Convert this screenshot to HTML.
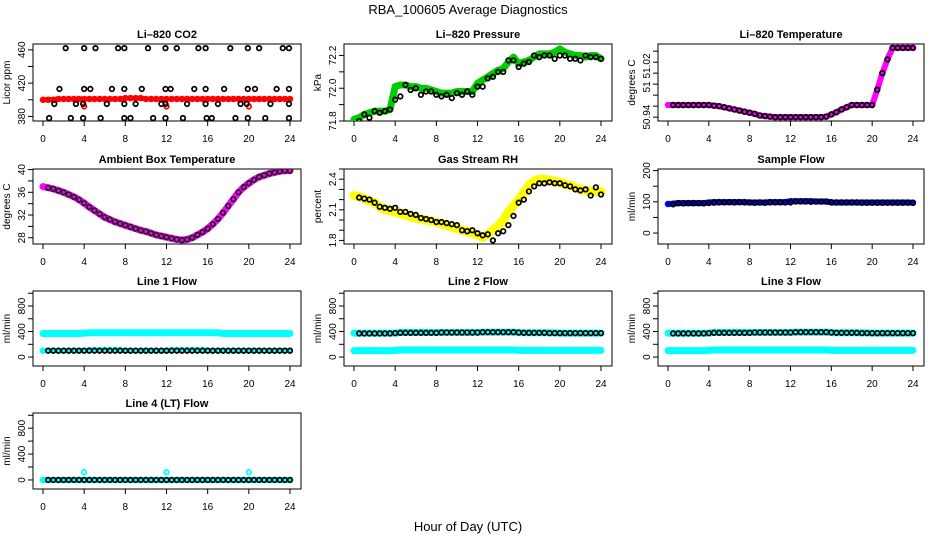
<!DOCTYPE html>
<html><head><meta charset="utf-8"><style>
html,body{margin:0;padding:0;background:#fff;}
svg{display:block;font-family:"Liberation Sans",Arial,sans-serif;}
</style></head><body>
<svg id="chart" width="936" height="540" viewBox="0 0 936 540" xmlns="http://www.w3.org/2000/svg">
<rect width="936" height="540" fill="#fff"/>
<text x="468" y="14" text-anchor="middle" font-size="13">RBA_100605  Average Diagnostics</text>
<text x="468" y="531" text-anchor="middle" font-size="13">Hour of Day (UTC)</text>
</svg>
<script>
const hrs=[0,0.5,1,1.5,2,2.5,3,3.5,4,4.5,5,5.5,6,6.5,7,7.5,8,8.5,9,9.5,10,10.5,11,11.5,12,12.5,13,13.5,14,14.5,15,15.5,16,16.5,17,17.5,18,18.5,19,19.5,20,20.5,21,21.5,22,22.5,23,23.5,24];
const xTicks=[0,4,8,12,16,20,24];
// CO2
const co2Red=[400,400,400,401,401,401,401,401,401,401,401,401,401,401,401,401,402,402,402,402,401,401,401,401,401,401,401,401,401,401,401,401,401,401,401,401,401,401,401,401,401,401,401,401,401,401,401,401,401];
const co2RedOutT=[4,12,20];
const co2RedOutV=[392,392,392];
const co2BlackT=[2.2,4,5.1,7.3,7.9,10.2,11.9,13,15.1,15.8,18.2,19.9,21,23.3,23.9,1.6,4,4.6,6.7,7.9,9.6,11.9,12.4,14.7,15.8,17.6,19.9,20.6,22.7,23.9,1.1,3.2,3.9,6.2,7.9,9,11.5,11.9,14,15.8,17,19.2,19.8,22.1,23.9,0.6,2.7,3.9,5.6,7.9,8.5,10.7,11.9,13.6,15.9,16.4,18.7,19.9,21.6,23.9];
const co2BlackV=[462,462,462,462,462,462,462,462,462,462,462,462,462,462,462,413,413,413,413,413,413,413,413,413,413,413,413,413,413,413,395,395,395,395,395,395,395,395,395,395,395,395,395,395,395,378,378,378,378,378,378,378,378,378,378,378,378,378,378,378];
// Pressure
const presGreen=[71.81,71.82,71.84,71.85,71.86,71.86,71.86,71.87,72.01,72.02,72.02,72.01,72.01,72.0,72.0,71.99,71.98,71.97,71.97,71.97,71.98,71.98,71.98,71.98,72.03,72.05,72.07,72.09,72.11,72.12,72.16,72.19,72.15,72.16,72.17,72.19,72.21,72.21,72.21,72.22,72.24,72.22,72.21,72.2,72.2,72.19,72.2,72.2,72.18];
const presBlack=[71.8,71.84,71.82,71.86,71.85,71.86,71.87,71.93,71.95,72.02,71.99,72.0,71.96,71.98,71.98,71.96,71.95,71.96,71.94,71.97,71.96,71.98,71.96,72.01,72.01,72.06,72.07,72.1,72.1,72.17,72.17,72.13,72.15,72.16,72.2,72.19,72.2,72.2,72.18,72.2,72.2,72.18,72.18,72.17,72.2,72.19,72.19,72.18];
// Li-820 temperature
const ltMag=[50.962,50.962,50.962,50.962,50.962,50.962,50.962,50.962,50.962,50.961,50.96,50.958,50.956,50.954,50.952,50.95,50.948,50.946,50.943,50.942,50.941,50.94,50.94,50.94,50.94,50.94,50.94,50.94,50.94,50.94,50.94,50.941,50.945,50.949,50.954,50.958,50.962,50.962,50.962,50.962,50.962,50.99,51.02,51.045,51.066,51.066,51.066,51.066,51.066];
// Ambient
const ambMag=[37,36.8,36.6,36.3,36,35.6,35.2,34.7,34.1,33.4,32.8,32.2,31.6,31.2,30.8,30.5,30.2,29.9,29.6,29.3,29.1,28.8,28.5,28.3,28.1,27.9,27.7,27.6,27.7,28,28.5,29,29.6,30.4,31.3,32.4,33.6,34.8,36,36.9,37.6,38.2,38.7,39,39.3,39.5,39.7,39.8,39.8];
// RH
const rhYel=[2.24,2.23,2.21,2.19,2.17,2.13,2.1,2.09,2.08,2.06,2.05,2.03,2.02,2.01,2.0,1.99,1.98,1.96,1.95,1.93,1.92,1.9,1.89,1.87,1.86,1.83,1.86,1.9,1.94,2.0,2.08,2.14,2.2,2.27,2.34,2.38,2.4,2.4,2.39,2.38,2.37,2.35,2.34,2.32,2.3,2.29,2.28,2.28,2.28];
const rhBlack=[2.22,2.21,2.2,2.17,2.13,2.12,2.11,2.12,2.08,2.08,2.06,2.05,2.02,2.01,2.0,1.98,1.98,1.97,1.96,1.95,1.9,1.89,1.9,1.87,1.85,1.86,1.8,1.87,1.89,1.95,2.04,2.17,2.2,2.28,2.33,2.36,2.36,2.37,2.36,2.36,2.34,2.33,2.3,2.29,2.3,2.24,2.32,2.25];
// Sample flow
const sfBlue=[93,94,96,96,96,96,96,96,98,99,99,99,99,99,99,99,98,98,98,98,99,99,99,99,102,102,102,102,102,101,101,101,98,98,98,98,98,98,98,98,98,98,98,98,98,98,98,98,97];
const sfBlack=[92,96,95,96,96,96,95,96,97,98,98,99,98,99,98,98,97,98,97,98,98,98,98,98,101,101,101,100,101,101,101,99,98,98,98,98,98,97,97,97,97,97,97,97,97,97,97,97];
// Line flows
const l1CyanHi=[370,370,370,370,370,370,370,370,375,380,380,380,380,380,380,380,380,380,380,380,380,380,380,380,380,380,380,380,380,380,380,380,380,380,380,370,370,370,370,370,370,370,370,370,370,370,370,370,370];
const l1CyanLo=[100,100,100,100,100,100,100,100,100,110,110,110,110,110,110,110,100,100,100,100,100,100,100,100,100,110,110,110,110,110,110,110,100,100,100,100,100,100,100,100,100,100,100,100,100,100,100,100,100];
const l1Black=[100,100,100,100,100,100,100,100,100,100,100,100,100,100,100,100,100,100,100,100,100,100,100,100,100,100,100,100,100,100,100,100,100,100,100,100,100,100,100,100,100,100,100,100,100,100,100,100];
const l2CyanHi=[375,375,375,375,375,375,375,375,375,385,385,385,385,385,385,385,385,385,385,385,385,385,385,385,385,390,390,390,390,390,390,390,385,380,380,380,380,380,380,380,375,375,375,375,375,375,375,375,375];
const l2CyanLo=[100,100,100,100,100,100,100,100,105,110,110,110,110,110,110,110,110,110,110,110,110,110,110,110,110,110,110,110,110,110,110,110,105,105,105,105,105,105,105,105,105,105,105,105,105,105,105,105,105];
const l2Black=[370,370,370,370,370,370,370,375,380,380,380,380,380,380,380,380,385,385,385,385,385,385,385,385,390,390,390,390,390,390,390,385,380,380,380,380,380,375,375,375,375,375,375,375,375,375,375,375];
const l4Cyan=[0,0,0,0,0,0,0,0,0,0,0,0,0,0,0,0,0,0,0,0,0,0,0,0,0,0,0,0,0,0,0,0,0,0,0,0,0,0,0,0,0,0,0,0,0,0,0,0,0];
const l4OutT=[4,12,20];
const l4OutV=[120,120,120];
const l4Black=[0,0,0,0,0,0,0,0,0,0,0,0,0,0,0,0,0,0,0,0,0,0,0,0,0,0,0,0,0,0,0,0,0,0,0,0,0,0,0,0,0,0,0,0,0,0,0,0];

const NS='http://www.w3.org/2000/svg';
const svg=document.getElementById('chart');
function mk(tag,attrs,parent){const e=document.createElementNS(NS,tag);for(const k in attrs)e.setAttribute(k,attrs[k]);(parent||svg).appendChild(e);return e;}
const cols=[[33,301],[344,612],[658,924]];
const rows=[[44,121],[169,244],[291,366],[413,489]];

function panel(name,title,ytitle,c,r,ymin,ymax,ticks,labels){
  const [L,R]=cols[c],[T,B]=rows[r];
  const g=mk('g',{});
  
  
  const xs=t=>L+10+t/24*(R-L-21);
  const ys=v=>B-(v-ymin)/(ymax-ymin)*(B-T);
  const box=mk('rect',{x:L,y:T,width:R-L,height:B-T,fill:'none',stroke:'#000','stroke-width':1},g);
  
  
  const tt=mk('text',{x:(L+R)/2,y:T-6,'text-anchor':'middle','font-size':11,'font-weight':'bold'},g);
  tt.textContent=title;
  
  
  const yt=mk('text',{x:0,y:0,'text-anchor':'middle','font-size':10,transform:`translate(${L-23},${(T+B)/2}) rotate(-90)`},g);
  yt.textContent=ytitle;
  
  
  xTicks.forEach(t=>{
    mk('line',{x1:xs(t),x2:xs(t),y1:B,y2:B+5,stroke:'#000'},g);
    const tx=mk('text',{x:xs(t),y:B+21,'text-anchor':'middle','font-size':10},g);
    tx.textContent=t;
    
    
  });
  ticks.forEach(v=>mk('line',{x1:L-5,x2:L,y1:ys(v),y2:ys(v),stroke:'#000'},g));
  labels.forEach(l=>{
    const tx=mk('text',{x:0,y:0,'text-anchor':'middle','font-size':10,transform:`translate(${L-8},${ys(l[0])}) rotate(-90)`},g);
    tx.textContent=l[1];
    
    
  });
  const clip='clip-'+name;
  const cp=mk('clipPath',{id:clip},g);mk('rect',{x:L,y:T,width:R-L,height:B-T},cp);
  const dg=mk('g',{'clip-path':`url(#${clip})`},g);
  return {xs,ys,dg};
}
function band(p,ts,vs,color,w,name){
  const pl=mk('polyline',{points:ts.map((t,i)=>p.xs(t)+','+p.ys(vs[i])).join(' '),fill:'none',stroke:color,'stroke-width':w,'stroke-linejoin':'round','stroke-linecap':'round'},p.dg);
  
  
  ts.forEach((t,i)=>mk('circle',{cx:p.xs(t),cy:p.ys(vs[i]),r:2.5,fill:'none',stroke:color,'stroke-width':1.5},p.dg));
}
function pts(p,ts,vs,color,name){
  ts.forEach((t,i)=>{
    const c=mk('circle',{cx:p.xs(t),cy:p.ys(vs[i]),r:2.3,fill:'none',stroke:color,'stroke-width':1.7},p.dg);
    
    
  });
}
const bh=hrs.slice(1);
const flowTicks=[0,200,400,600,800,1000],flowLabels=[[0,'0'],[400,'400'],[800,'800']];

let p=panel('co2','Li\u2013820 CO2','Licor ppm',0,0,374.5,467,[380,400,420,440,460],[[380,'380'],[420,'420'],[460,'460']]);
band(p,hrs,co2Red,'#f00',5,'co2-red-series');pts(p,co2RedOutT,co2RedOutV,'#f00','co2-red-outlier');pts(p,co2BlackT,co2BlackV,'#000','co2-black-point');

p=panel('pressure','Li\u2013820 Pressure','kPa',1,0,71.8,72.27,[71.8,71.9,72.0,72.1,72.2],[[71.8,'71.8'],[72.0,'72.0'],[72.2,'72.2']]);
band(p,hrs,presGreen,'#0c0',7,'pressure-green-series');pts(p,bh,presBlack,'#000','pressure-black-point');

p=panel('li820-temp','Li\u2013820 Temperature','degrees C',2,0,50.933,51.073,[50.94,50.96,50.98,51.0,51.02,51.04,51.06],[[50.94,'50.94'],[50.995,'51'],[51.033,'51.02']]);
band(p,hrs,ltMag,'#f0f',6,'li820-temp-magenta-series');pts(p,bh,ltMag.slice(1),'#000','li820-temp-black-point');

p=panel('ambient','Ambient Box Temperature','degrees C',0,1,26.9,40.1,[28,30,32,34,36,38,40],[[28,'28'],[32,'32'],[36,'36'],[40,'40']]);
band(p,hrs,ambMag,'#f0f',7,'ambient-magenta-series');pts(p,bh,ambMag.slice(1),'#222','ambient-black-point');

p=panel('rh','Gas Stream RH','percent',1,1,1.765,2.5,[1.8,1.9,2.0,2.1,2.2,2.3,2.4,2.5],[[1.8,'1.8'],[2.1,'2.1'],[2.4,'2.4']]);
band(p,hrs,rhYel,'#ff0',9,'rh-yellow-series');pts(p,bh,rhBlack,'#000','rh-black-point');

p=panel('sample-flow','Sample Flow','ml/min',2,1,-35,205,[0,50,100,150,200],[[0,'0'],[100,'100'],[200,'200']]);
band(p,hrs,sfBlue,'#00e',6,'sample-flow-blue-series');pts(p,bh,sfBlack,'#000','sample-flow-black-point');

p=panel('line1','Line 1 Flow','ml/min',0,2,-140,1035,flowTicks,flowLabels);
band(p,hrs,l1CyanHi,'#0ff',7,'line1-cyan-high');band(p,hrs,l1CyanLo,'#0ff',5,'line1-cyan-low');pts(p,bh,l1Black,'#000','line1-black-point');

p=panel('line2','Line 2 Flow','ml/min',1,2,-140,1035,flowTicks,flowLabels);
band(p,hrs,l2CyanHi,'#0ff',7,'line2-cyan-high');band(p,hrs,l2CyanLo,'#0ff',7,'line2-cyan-low');pts(p,bh,l2Black,'#000','line2-black-point');

p=panel('line3','Line 3 Flow','ml/min',2,2,-140,1035,flowTicks,flowLabels);
band(p,hrs,l2CyanHi,'#0ff',7,'line3-cyan-high');band(p,hrs,l2CyanLo,'#0ff',7,'line3-cyan-low');pts(p,bh,l2Black,'#000','line3-black-point');

p=panel('line4','Line 4 (LT) Flow','ml/min',0,3,-140,1035,flowTicks,flowLabels);
band(p,hrs,l4Cyan,'#0ff',6,'line4-cyan-series');pts(p,l4OutT,l4OutV,'#0ff','line4-cyan-outlier');pts(p,bh,l4Black,'#000','line4-black-point');
</script>
</body></html>
